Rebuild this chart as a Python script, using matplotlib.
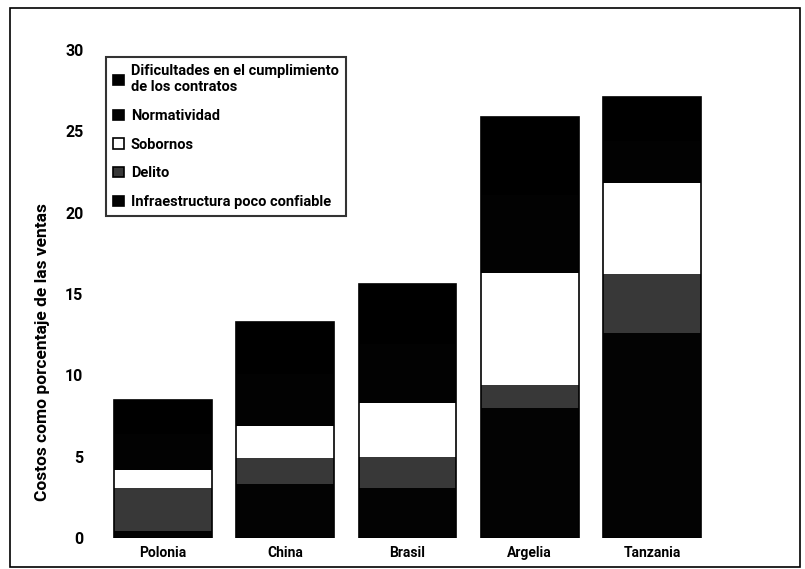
import matplotlib
matplotlib.use("Agg")
import matplotlib.pyplot as plt
from matplotlib.patches import Rectangle, Patch
import numpy as np

plt.rcParams['font.family'] = ['Roboto', 'DejaVu Sans']
plt.rcParams['font.weight'] = 'bold'

paises = ["Polonia", "China", "Brasil", "Argelia", "Tanzania"]
infraestructura = [0.4, 3.3, 3.1, 8.0, 12.6]
delito = [2.7, 1.6, 1.9, 1.4, 3.6]
sobornos = [1.1, 2.0, 3.3, 6.9, 5.6]
normatividad = [2.2, 3.2, 3.6, 4.8, 2.6]
contratos = [2.1, 3.2, 3.7, 4.8, 2.7]

series = [
    ("Infraestructura poco confiable", infraestructura, "#030303"),
    ("Delito", delito, "#383838"),
    ("Sobornos", sobornos, "#ffffff"),
    ("Normatividad", normatividad, "#020202"),
    ("Dificultades en el cumplimiento\nde los contratos", contratos, "#000000"),
]

W, H = 805, 569
fig = plt.figure(figsize=(W / 100, H / 100), dpi=100)
ax = fig.add_axes([100 / W, (H - 538) / H, 615 / W, 488 / H])

x = np.arange(len(paises))
bottom = np.zeros(len(paises))
handles = {}
for name, vals, col in series:
    ax.bar(x, vals, bottom=bottom, width=0.8, color=col, edgecolor=col, linewidth=0)
    bottom += np.array(vals)
    handles[name] = col
ax.bar(x, bottom, width=0.8, fill=False, edgecolor="#000000", linewidth=1.2)

ax.set_xlim(-0.515, 4.515)
ax.set_ylim(0, 30)
ax.set_yticks([0, 5, 10, 15, 20, 25, 30])
ax.set_xticks(x)
ax.set_xticklabels(paises, fontsize=10, fontweight='bold')
ax.tick_params(axis='both', length=0)
ax.tick_params(axis='y', pad=12, labelsize=11.5)
ax.tick_params(axis='x', pad=6, labelsize=10)
for s in ax.spines.values():
    s.set_visible(False)
for lab in ax.get_yticklabels():
    lab.set_fontweight('bold')

fig.text(42 / W, 1 - 352 / H, "Costos como porcentaje de las ventas", rotation=90,
         ha='center', va='center', fontsize=12.5, fontweight='bold')

order = ["Dificultades en el cumplimiento\nde los contratos", "Normatividad", "Sobornos",
         "Delito", "Infraestructura poco confiable"]
leg_handles = [Patch(facecolor=handles[n], edgecolor="#000000", linewidth=1.2) for n in order]
leg = ax.legend(leg_handles, order, loc='upper left', bbox_to_anchor=(6 / 615, 1 - 7 / 488),
                borderaxespad=0, frameon=True, fancybox=False, edgecolor="#000000",
                handlelength=0.7, handleheight=0.7, handletextpad=0.5, borderpad=0.5,
                labelspacing=1.0, prop={'weight': 'bold', 'size': 10.5})
leg.get_frame().set_linewidth(1.5)

fig.patches.append(Rectangle((10 / W, 2 / H), 790 / W, (H - 10) / H, transform=fig.transFigure,
                             fill=False, edgecolor="#000000", linewidth=1.2))

fig.savefig("out.png", dpi=100)
